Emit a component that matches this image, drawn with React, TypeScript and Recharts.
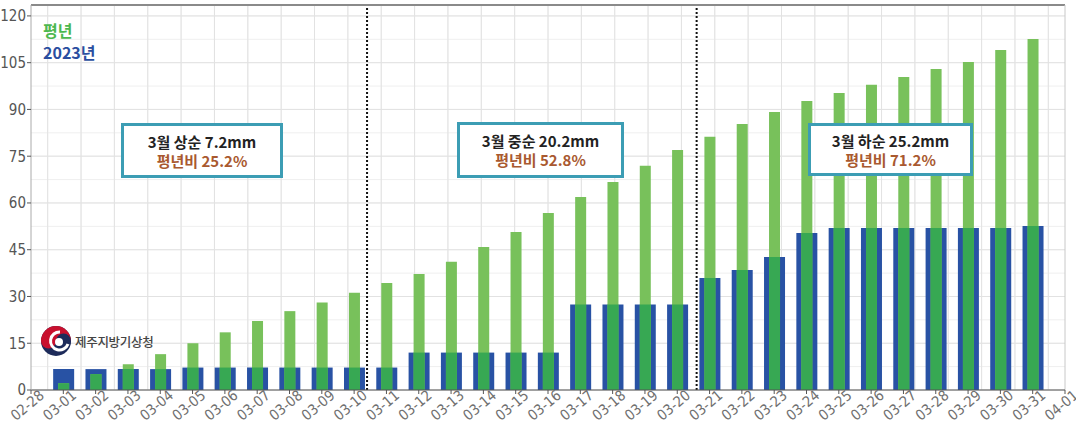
import { BarChart, Bar, XAxis, YAxis, CartesianGrid, ReferenceLine } from 'recharts';

// x positions: 0 = 02-28 ... 32 = 04-01, bars on 1..31
const dayLabels = [
    '02-28', '03-01', '03-02', '03-03', '03-04', '03-05', '03-06', '03-07', '03-08', '03-09', '03-10',
    '03-11', '03-12', '03-13', '03-14', '03-15', '03-16', '03-17', '03-18', '03-19', '03-20',
    '03-21', '03-22', '03-23', '03-24', '03-25', '03-26', '03-27', '03-28', '03-29', '03-30', '03-31', '04-01',
];

// 평년 누적강수량 (mm)
const normal = [
    2.2, 5.1, 8.3, 11.5, 15.0, 18.5, 22.1, 25.3, 28.1, 31.2,
    34.3, 37.2, 41.1, 45.9, 50.7, 56.8, 61.9, 66.7, 71.9, 77.0,
    81.2, 85.3, 89.2, 92.7, 95.3, 97.9, 100.4, 103.0, 105.2, 109.1, 112.6,
];

// 2023년 누적강수량 (mm)
const y2023 = [
    6.7, 6.7, 6.7, 6.7, 7.2, 7.2, 7.2, 7.2, 7.2, 7.2,
    7.2, 12.0, 12.0, 12.0, 12.0, 12.0, 27.4, 27.4, 27.4, 27.4,
    35.9, 38.5, 42.7, 50.4, 52.0, 52.0, 52.0, 52.0, 52.0, 52.0, 52.6,
];

const yTicks = [0, 15, 30, 45, 60, 75, 90, 105, 120];
const yMax = 123.5;

const notes = [
    { title: '3월 상순 7.2mm', ratio: '평년비 25.2%', left: 121, top: 123, width: 162, height: 55 },
    { title: '3월 중순 20.2mm', ratio: '평년비 52.8%', left: 457, top: 122, width: 167, height: 56 },
    { title: '3월 하순 25.2mm', ratio: '평년비 71.2%', left: 808, top: 123, width: 165, height: 53 },
];
const dividers = [10.4, 20.6];

const data = normal.map((n, i) => ({
    day: i + 1,
    normal: n,
    actual: y2023[i],
    overlap: Math.min(n, y2023[i]),
}));

const xTicks = dayLabels.map((_, i) => i);
const minorX = Array.from({ length: 65 }, (_, i) => i / 2);
const minorY = Array.from({ length: 17 }, (_, i) => i * 7.5);

const axisFont = "'Liberation Sans Narrow', 'DejaVu Sans Condensed', sans-serif";
const krFont = "'Noto Sans CJK KR', sans-serif";

const XTick = ({ x, y, payload }: any) => {
    const px = x + 14;
    const py = y + 1;
    return (
        <text x={px} y={py} textAnchor="end" fill="#707070" fontSize={14.5} fontFamily={axisFont}
            transform={`rotate(-40 ${px} ${py})`}>
            {dayLabels[payload.value]}
        </text>
    );
};

function Emblem() {
    return (
        <svg width={32} height={34} viewBox="-16 -17 32 34">
            <circle r={15} fill="#1d2b5a" />
            <path d="M -15 0 A 15 15 0 0 1 15 0 Z" fill="#c8102e" />
            <circle cx={-7.5} cy={0} r={7.5} fill="#c8102e" />
            <circle cx={7.5} cy={0} r={7.5} fill="#1d2b5a" />
            <path d="M 4 -9 A 9 9 0 1 0 12 3" fill="none" stroke="#fff" strokeWidth={3} />
            <circle cx={3} cy={1} r={4} fill="#fff" />
        </svg>
    );
}

export default function App() {
    return (
        <div style={{ position: 'absolute', left: 0, top: 0, width: 1076, height: 426, background: '#fff', overflow: 'hidden' }}>
            <BarChart width={1076} height={426} data={data} margin={{ top: 5, right: 11, bottom: 0, left: 0 }}>
                <CartesianGrid stroke="#efefef" horizontalValues={minorY} verticalValues={minorX} />
                <CartesianGrid stroke="#e2e2e2" horizontalValues={yTicks} verticalValues={xTicks} />
                <XAxis xAxisId="a" dataKey="day" type="number" domain={[0, 32]} ticks={xTicks} interval={0}
                    height={36} tick={<XTick />} tickSize={4} stroke="#555" />
                <XAxis xAxisId="b" dataKey="day" type="number" domain={[0, 32]} ticks={xTicks} hide />
                <XAxis xAxisId="c" dataKey="day" type="number" domain={[0, 32]} ticks={xTicks} hide />
                <YAxis domain={[0, yMax]} ticks={yTicks} width={31} tickSize={4} tickMargin={1}
                    axisLine={{ stroke: '#aaa' }} tickLine={{ stroke: '#555' }}
                    tick={{ fill: '#555', fontSize: 15, fontFamily: axisFont }} />
                <Bar xAxisId="a" dataKey="actual" fill="#2852a4" barSize={21} isAnimationActive={false} />
                <Bar xAxisId="b" dataKey="normal" fill="#78c15b" barSize={11} isAnimationActive={false} />
                <Bar xAxisId="c" dataKey="overlap" fill="#37a853" barSize={11} isAnimationActive={false} />
                {dividers.map((d) => (
                    <ReferenceLine key={d} xAxisId="a" x={d} stroke="#111" strokeWidth={2} strokeDasharray="2 2" />
                ))}
                <ReferenceLine xAxisId="a" y={yMax} stroke="#8a8a8a" strokeWidth={2} />
                <ReferenceLine xAxisId="a" x={32} stroke="#c8c8c8" />
            </BarChart>

            <div style={{ position: 'absolute', left: 43, top: 19, fontFamily: krFont, fontWeight: 700, fontSize: 16, lineHeight: '22px' }}>
                <div style={{ color: '#4cb84f' }}>평년</div>
                <div style={{ color: '#2a4ea0' }}>2023년</div>
            </div>

            <div style={{ position: 'absolute', left: 40, top: 324, display: 'flex', alignItems: 'center' }}>
                <Emblem />
                <span style={{ fontFamily: krFont, fontSize: 12.5, fontWeight: 500, color: '#444', marginLeft: 3, letterSpacing: -0.3 }}>
                    제주지방기상청
                </span>
            </div>

            {notes.map((n) => (
                <div key={n.title} style={{
                    position: 'absolute', left: n.left, top: n.top, width: n.width, height: n.height,
                    boxSizing: 'border-box', border: '3px solid #3c9db4', background: '#fff',
                    display: 'flex', flexDirection: 'column', justifyContent: 'center', alignItems: 'center',
                    fontFamily: krFont, fontWeight: 700, fontSize: 15, lineHeight: '19px',
                }}>
                    <div style={{ color: '#222' }}>{n.title}</div>
                    <div style={{ color: '#a9592f' }}>{n.ratio}</div>
                </div>
            ))}
        </div>
    );
}
